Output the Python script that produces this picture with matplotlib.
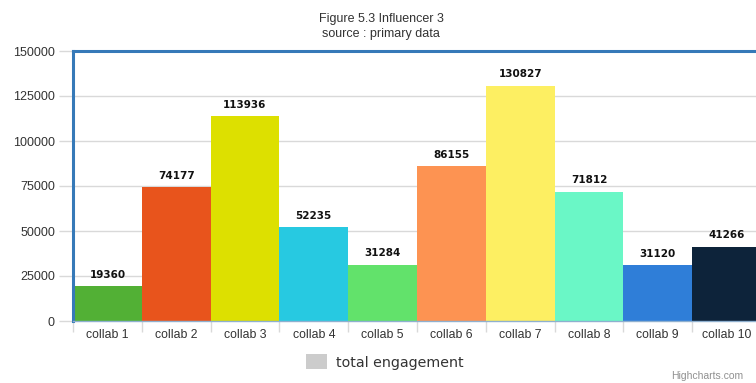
"""
Influencer 3 collab engagement, Highcharts-style column chart.
"""

import matplotlib
matplotlib.use("Agg")
import matplotlib.pyplot as plt
from matplotlib.patches import Patch

# data
collabs = ["collab 1", "collab 2", "collab 3", "collab 4", "collab 5",
           "collab 6", "collab 7", "collab 8", "collab 9", "collab 10"]
engagement = [19360, 74177, 113936, 52235, 31284, 86155, 130827, 71812, 31120, 41266]
bar_colors = ["#52b035", "#e8541c", "#dde000", "#27c9e1", "#62e26b",
              "#fd9352", "#fdef62", "#6af7c6", "#2f7ed8", "#0d233a"]
y_ticks = [0, 25000, 50000, 75000, 100000, 125000, 150000]

AXIS_BLUE = "#3679b8"
GRID = "#d9d9d9"
TEXT = "#333333"

plt.rcParams["font.family"] = ["Liberation Sans", "DejaVu Sans"]

fig = plt.figure(figsize=(7.56, 3.83), dpi=100)
fig.patch.set_facecolor("white")
# plot area runs a little past the right edge, like the cropped original
ax = fig.add_axes([73 / 756, 62 / 383, 688 / 756, 270 / 383])

x = range(len(collabs))
bars = ax.bar(x, engagement, width=1.0, color=bar_colors, linewidth=0, zorder=2)

ax.set_xlim(-0.5, len(collabs) - 0.5)
ax.set_ylim(0, 150000)
ax.set_yticks(y_ticks)
ax.set_yticklabels([str(v) for v in y_ticks], fontsize=9, color=TEXT)
ax.set_xticks(list(x))
ax.set_xticklabels(collabs, fontsize=8.8, color=TEXT)
ax.tick_params(axis="x", length=0, pad=6)
ax.tick_params(axis="y", length=10, color=GRID, width=1, pad=3)

# boundary ticks between categories
ax.set_xticks([i - 0.5 for i in range(len(collabs) + 1)], minor=True)
ax.tick_params(axis="x", which="minor", length=8, color=GRID, width=1)

ax.grid(axis="y", color=GRID, linewidth=1, zorder=0)
ax.set_axisbelow(True)

for side in ("left", "top"):
    ax.spines[side].set_color(AXIS_BLUE)
    ax.spines[side].set_linewidth(2.2)
ax.spines["right"].set_visible(False)
ax.spines["bottom"].set_color("#8fb0cf")
ax.spines["bottom"].set_linewidth(1)

for bar, val in zip(bars, engagement):
    ax.text(bar.get_x() + bar.get_width() / 2, val + 3500, str(val),
            ha="center", va="bottom", fontsize=7.5, fontweight="bold",
            family="DejaVu Sans", color="#111111", zorder=3)

fig.text(0.504, 0.95, "Figure 5.3 Influencer 3", ha="center", va="center",
         fontsize=9, color=TEXT)
fig.text(0.504, 0.91, "source : primary data", ha="center", va="center",
         fontsize=9, color=TEXT)

leg = fig.legend(handles=[Patch(facecolor="#cccccc", edgecolor="none")],
                 labels=["total engagement"], loc="center",
                 bbox_to_anchor=(0.509, 0.055), frameon=False,
                 handlelength=1.5, handleheight=1.2, handletextpad=0.6,
                 prop={"family": "DejaVu Sans", "size": 10.3})
for t in leg.get_texts():
    t.set_color(TEXT)

fig.text(0.888, 0.004, "Highcharts.com", ha="left", va="bottom",
         fontsize=7.5, color="#909090")

fig.savefig("out.png", dpi=100, facecolor="white")
